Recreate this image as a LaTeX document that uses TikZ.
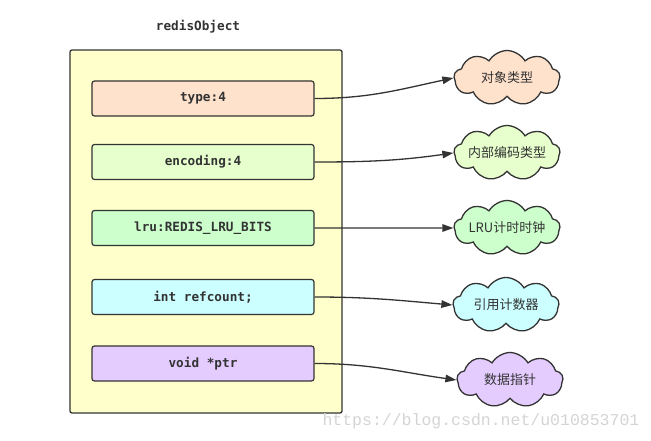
\documentclass[tikz,border=0pt]{standalone}
\usepackage{fontspec}
\newfontfamily\codefont{DejaVu Sans Mono}
\newfontfamily\cjk{Noto Sans CJK SC}
\newfontfamily\wmfont{Liberation Mono}
\usetikzlibrary{shapes.symbols,arrows.meta}
\definecolor{edge}{HTML}{333333}
\definecolor{objfill}{HTML}{FFFFCC}
\definecolor{cpeach}{HTML}{FFE2CC}
\definecolor{clime}{HTML}{E6FFCC}
\definecolor{cgreen}{HTML}{CCFFCC}
\definecolor{ccyan}{HTML}{CCFFFF}
\definecolor{cviolet}{HTML}{E5CCFF}
\newcommand{\cloudtext}[1]{\makebox[0pt]{#1}}
\tikzset{
  outerbox/.style={draw=edge,line width=1.3pt,fill=objfill,rounded corners=2pt,minimum width=272pt,minimum height=363pt,inner sep=0pt},
  field/.style={draw=edge,line width=1.2pt,rounded corners=2.5pt,minimum width=222pt,minimum height=35pt,inner sep=0pt,text=edge,font=\codefont\bfseries\fontsize{12.7pt}{14pt}\selectfont},
  titletext/.style={text=edge,font=\codefont\bfseries\fontsize{12.7pt}{14pt}\selectfont},
  bubble/.style={cloud,cloud puffs=9,cloud puff arc=120,aspect=1.9,draw=edge,line width=1.3pt,minimum width=106pt,minimum height=55pt,inner sep=0pt,text=edge,font=\cjk\fontsize{13pt}{15pt}\selectfont},
  link/.style={draw=edge,line width=1.3pt,-{Triangle[length=11pt,width=7.5pt]}},
  wm/.style={font=\wmfont\fontsize{16.5pt}{18pt}\selectfont,text=black!17}
}
\begin{document}
\begin{tikzpicture}[x=1pt,y=-1pt]
\useasboundingbox (0,0) rectangle (651,441);
\node[titletext] (title) at (198,27) {redisObject};
\node[outerbox] (obj) at (206,231.5) {};
\node[field,fill=cpeach] (f1) at (203,98.5) {type:4};
\node[field,fill=clime] (f2) at (203,162) {encoding:4};
\node[field,fill=cgreen] (f3) at (203,228) {lru:REDIS\_LRU\_BITS};
\node[field,fill=ccyan] (f4) at (203,297) {int refcount;};
\node[field,fill=cviolet] (f5) at (203,363.5) {void *ptr};
\node[bubble,fill=cpeach] (c1) at (507,78) {\cloudtext{对象类型}};
\node[bubble,fill=clime] (c2) at (507,153) {\cloudtext{内部编码类型}};
\node[bubble,fill=cgreen] (c3) at (507,228) {\cloudtext{LRU计时时钟}};
\node[bubble,fill=ccyan] (c4) at (506,305) {\cloudtext{引用计数器}};
\node[bubble,fill=cviolet] (c5) at (510,380) {\cloudtext{数据指针}};
\draw[link] (f1.east) to[out=0,in=192] (c1.west);
\draw[link] (f2.east) to[out=0,in=188] (c2.west);
\draw[link] (f3.east) to[out=0,in=180] (c3.west);
\draw[link] (f4.east) to[out=0,in=175] (c4.west);
\draw[link] (f5.east) to[out=0,in=172] (c5.west);
\node[wm,anchor=west] (mark) at (319,421) {https://blog.csdn.net/u010853701};
\end{tikzpicture}
\end{document}
